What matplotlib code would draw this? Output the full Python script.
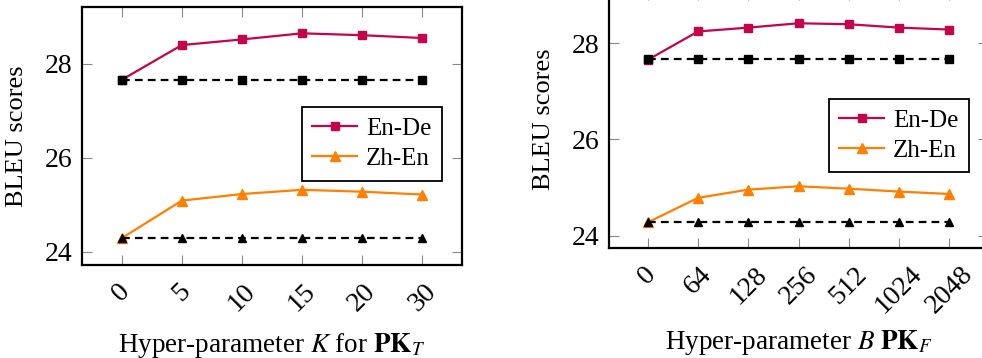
import numpy as np
import matplotlib
matplotlib.use("Agg")
import matplotlib.pyplot as plt

plt.rcParams['font.family'] = ['Liberation Serif', 'DejaVu Serif']
plt.rcParams['mathtext.fontset'] = 'stix'

# left panel: hyper-parameter K
k_labels = ['0', '5', '10', '15', '20', '30']
ende_k = [27.66, 28.40, 28.52, 28.65, 28.61, 28.55]
zhen_k = [24.29, 25.09, 25.23, 25.32, 25.28, 25.22]
ende_k_base = [27.66, 27.66, 27.66, 27.66, 27.66, 27.66]
zhen_k_base = [24.29, 24.29, 24.29, 24.29, 24.29, 24.29]

# right panel: hyper-parameter B
b_labels = ['0', '64', '128', '256', '512', '1024', '2048']
ende_b = [27.65, 28.24, 28.32, 28.41, 28.39, 28.32, 28.28]
zhen_b = [24.28, 24.79, 24.96, 25.03, 24.98, 24.92, 24.87]
ende_b_base = [27.66, 27.66, 27.66, 27.66, 27.66, 27.66, 27.66]
zhen_b_base = [24.28, 24.28, 24.28, 24.28, 24.28, 24.28, 24.28]

c_ende = '#C4054C'
c_zhen = '#FF8000'

W, H = 982, 358
fig = plt.figure(figsize=(W / 100, H / 100), dpi=100)


def px_axes(l, t, r, b):
    return fig.add_axes([l / W, 1 - b / H, (r - l) / W, (b - t) / H])


def draw(ax, labels, ende, zhen, ende_base, zhen_base, xlabel, ylim, xlim, leg_anchor, xlab_y):
    x = np.arange(len(labels))
    ax.plot(x, ende, color=c_ende, lw=1.6, marker='s', ms=6, label='En-De')
    ax.plot(x, zhen, color=c_zhen, lw=1.6, marker='^', ms=6.5, label='Zh-En')
    ax.plot(x, ende_base, color='black', lw=1.6, ls=(0, (3.5, 2.3)), marker='s', ms=5.5)
    ax.plot(x, zhen_base, color='black', lw=1.6, ls=(0, (3.5, 2.3)), marker='^', ms=6)
    ax.set_xticks(x)
    ax.set_xticklabels(labels)
    ax.set_yticks([24, 26, 28])
    ax.set_xlim(*xlim)
    ax.set_ylim(*ylim)
    ax.tick_params(direction='in', length=7.5, width=0.8, color='#888888',
                   top=True, right=True, labelsize=20)
    ax.tick_params(axis='x', labelrotation=45, pad=10)
    ax.tick_params(axis='y', pad=7)
    for s in ax.spines.values():
        s.set_linewidth(1.6)
    ax.set_ylabel('BLEU scores', fontsize=19)
    ax.yaxis.set_label_coords(-0.142, 0.5)
    ax.set_xlabel(xlabel, fontsize=19.5)
    ax.xaxis.set_label_coords(0.5, xlab_y)
    leg = ax.legend(loc='upper right', bbox_to_anchor=leg_anchor, borderaxespad=0,
                    fontsize=18, fancybox=False, framealpha=1, edgecolor='black',
                    handlelength=1.8, handletextpad=0.35, numpoints=1,
                    borderpad=0.42, labelspacing=0.3)
    leg.get_frame().set_linewidth(1.3)


ax1 = px_axes(82, 7, 462, 265)
draw(ax1, k_labels, ende_k, zhen_k, ende_k_base, zhen_k_base,
     r'Hyper-parameter $K$ for $\mathbf{PK}_T$', (23.72, 29.21), (-0.66, 5.66),
     (0.947, 0.612), -0.255)

ax2 = px_axes(609, -10, 988, 248)
draw(ax2, b_labels, ende_b, zhen_b, ende_b_base, zhen_b_base,
     r'Hyper-parameter $B$ $\mathbf{PK}_F$', (23.75, 29.10), (-0.77, 6.77),
     (0.950, 0.578), -0.31)

fig.savefig('out.png', dpi=100)
